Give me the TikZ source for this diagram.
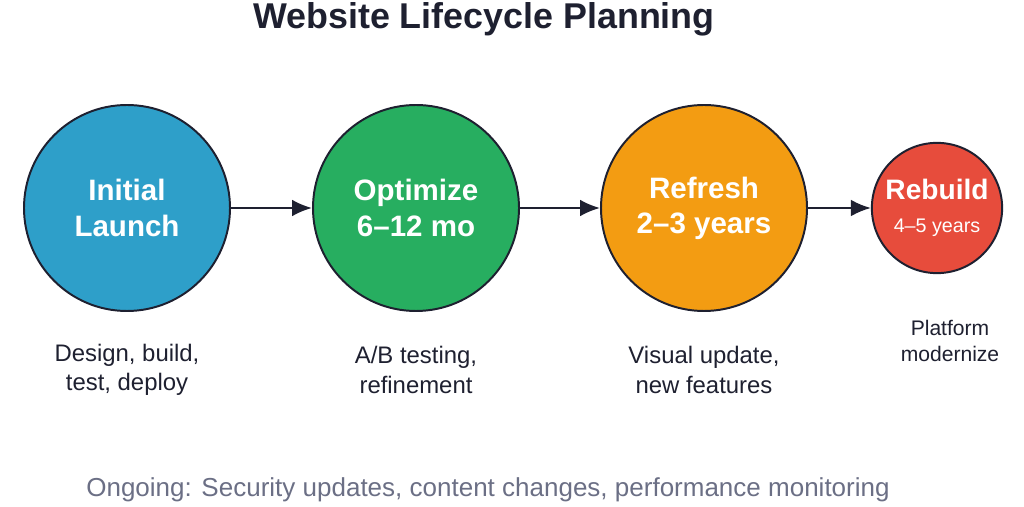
\documentclass[tikz,border=0pt]{standalone}
\usepackage{fontspec}
\setmainfont{Liberation Sans}
\usetikzlibrary{positioning,arrows.meta}
\definecolor{ink}{HTML}{1E2030}
\definecolor{launchblue}{HTML}{2E9FC9}
\definecolor{optgreen}{HTML}{27AE60}
\definecolor{refreshorange}{HTML}{F39C12}
\definecolor{rebuildred}{HTML}{E74C3C}
\definecolor{notegray}{HTML}{6B6F85}
\begin{document}
\begin{tikzpicture}[
    phase/.style={circle, draw=ink, line width=1.4pt, minimum size=5.15cm, text=white, align=center, font=\fontsize{21}{25}\selectfont\bfseries},
    caption/.style={align=center, text=ink, font=\fontsize{17}{21}\selectfont},
    arrow/.style={-{Latex[length=0.5cm,width=0.42cm]}, line width=1.6pt, draw=ink}
]
    \useasboundingbox (0,0) rectangle (25.6,12.675);
    \node[font=\fontsize{25.5}{30}\selectfont\bfseries, text=ink] (title) at (12.1,12.2) {Website Lifecycle Planning};

    % Phases
    \node[phase, fill=launchblue] (launch) at (3.175,7.475) {Initial\\Launch};
    \node[phase, fill=optgreen] (optimize) at (10.4,7.475) {Optimize\\6--12 mo};
    \node[phase, fill=refreshorange] (refresh) at (17.6,7.475) {Refresh\\2--3 years};
    \node[phase, fill=rebuildred, minimum size=3cm] (rebuild) at (23.425,7.475) {\fontsize{20}{22}\selectfont Rebuild\\[-2pt]\fontsize{14}{16}\selectfont\mdseries 4--5 years};

    % Connections
    \draw[arrow] (launch) -- (optimize);
    \draw[arrow] (optimize) -- (refresh);
    \draw[arrow] (refresh) -- (rebuild);

    % Descriptions
    \node[caption] (launchnote) at (3.175,3.43) {Design, build,\\test, deploy};
    \node[caption] (optnote) at (10.4,3.43) {A/B testing,\\refinement};
    \node[caption] (refreshnote) at (17.6,3.43) {Visual update,\\new features};
    \node[caption, font=\fontsize{15}{19}\selectfont] (rebuildnote) at (23.75,4.15) {Platform\\modernize};

    \node[text=notegray, font=\fontsize{18.5}{22}\selectfont] (ongoing) at (12.2,0.42) {Ongoing: Security updates, content changes, performance monitoring};
\end{tikzpicture}
\end{document}
